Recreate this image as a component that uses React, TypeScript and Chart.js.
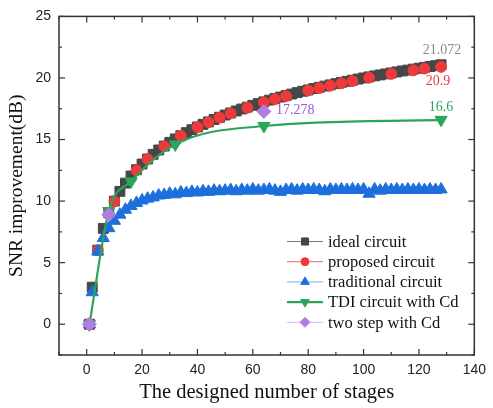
import React, { useEffect, useRef } from "react";
import { Chart, registerables } from "chart.js";
import { drawPoint } from "chart.js/helpers";

Chart.register(...registerables);

// ---- data ----
const stagesIdeal = [1, 2, 4, 6, 8, 10, 12, 14, 16, 18, 20, 22, 24, 26, 28, 30, 32, 34, 36, 38, 40, 42, 44, 46, 48, 50, 52, 54, 56, 58, 60, 62, 64, 66, 68, 70, 72, 74, 76, 78, 80, 82, 84, 86, 88, 90, 92, 94, 96, 98, 100, 102, 104, 106, 108, 110, 112, 114, 116, 118, 120, 122, 124, 126, 128];
const idealCircuit = [0, 3.01, 6.02, 7.78, 9.03, 10.0, 10.79, 11.46, 12.04, 12.55, 13.01, 13.42, 13.8, 14.15, 14.47, 14.77, 15.05, 15.31, 15.56, 15.8, 16.02, 16.23, 16.43, 16.63, 16.81, 16.99, 17.16, 17.32, 17.48, 17.63, 17.78, 17.92, 18.06, 18.2, 18.33, 18.45, 18.57, 18.69, 18.81, 18.92, 19.03, 19.14, 19.24, 19.34, 19.44, 19.54, 19.64, 19.73, 19.82, 19.91, 20.0, 20.09, 20.17, 20.25, 20.33, 20.41, 20.49, 20.57, 20.64, 20.72, 20.79, 20.86, 20.93, 21.0, 21.072];

const stagesProposed = [1, 4, 10, 18, 22, 28, 34, 40, 44, 48, 52, 58, 64, 68, 72, 80, 84, 88, 92, 96, 102, 110, 118, 122, 128];
const proposedCircuit = [0, 6.0, 9.98, 12.5, 13.4, 14.45, 15.3, 16.0, 16.4, 16.78, 17.12, 17.58, 18.02, 18.28, 18.52, 18.98, 19.18, 19.38, 19.57, 19.75, 20.02, 20.33, 20.62, 20.76, 20.9];

const stagesTraditional = stagesIdeal;
const traditionalCircuit = [0, 2.6, 5.9, 7.0, 7.8, 8.4, 8.9, 9.3, 9.6, 9.85, 10.05, 10.2, 10.3, 10.45, 10.5, 10.6, 10.55, 10.7, 10.65, 10.75, 10.7, 10.8, 10.75, 10.85, 10.8, 10.85, 10.9, 10.8, 10.9, 10.85, 10.95, 10.85, 10.9, 10.95, 10.85, 10.75, 10.9, 10.95, 10.85, 10.95, 10.9, 10.95, 10.9, 10.8, 10.95, 10.9, 10.95, 10.9, 10.95, 10.9, 10.95, 10.6, 10.95, 10.85, 10.95, 10.9, 10.95, 10.9, 10.95, 10.9, 10.95, 10.9, 10.95, 10.9, 10.95];

const stagesTDI = [1, 8, 16, 32, 64, 128];
const tdiCircuit = [0, 9.2, 11.6, 14.6, 16.1, 16.6];

const stagesTwoStep = [1, 8, 64];
const twoStepCircuit = [0, 8.9, 17.278];

const xTicks = [0, 20, 40, 60, 80, 100, 120, 140];
const xMinorTicks = [-10, 10, 30, 50, 70, 90, 110, 130];
const yTicks = [0, 5, 10, 15, 20, 25];
const yMinorTicks = [-2.5, 2.5, 7.5, 12.5, 17.5, 22.5];

const legendLabels = ["ideal circuit", "proposed circuit", "traditional circuit", "TDI circuit with Cd", "two step with Cd"];

const COLORS = {
  ideal: "#474747",
  proposed: "#ee3a3a",
  traditional: "#1c6fdc",
  tdi: "#2aa55a",
  twoStep: "#b07ee0",
};

const pts = (xs: number[], ys: number[]) => xs.map((x, i) => ({ x, y: ys[i] }));

const framePlugin = {
  id: "frame",
  afterDraw(chart: any) {
    const { ctx, chartArea: a, scales } = chart;
    const xs = scales.x;
    const ys = scales.y;
    ctx.save();
    ctx.strokeStyle = "#333";
    ctx.lineWidth = 1.5;
    ctx.strokeRect(a.left, a.top, a.right - a.left, a.bottom - a.top);
    ctx.lineWidth = 1.2;
    const tick = (x1: number, y1: number, x2: number, y2: number) => {
      ctx.beginPath();
      ctx.moveTo(x1, y1);
      ctx.lineTo(x2, y2);
      ctx.stroke();
    };
    xTicks.forEach((v) => {
      const px = xs.getPixelForValue(v);
      tick(px, a.bottom, px, a.bottom - 6);
      tick(px, a.top, px, a.top + 6);
    });
    xMinorTicks.forEach((v) => {
      const px = xs.getPixelForValue(v);
      tick(px, a.bottom, px, a.bottom - 3);
      tick(px, a.top, px, a.top + 3);
    });
    yTicks.forEach((v) => {
      const py = ys.getPixelForValue(v);
      tick(a.left, py, a.left + 6, py);
      tick(a.right, py, a.right - 6, py);
    });
    yMinorTicks.forEach((v) => {
      const py = ys.getPixelForValue(v);
      tick(a.left, py, a.left + 3, py);
      tick(a.right, py, a.right - 3, py);
    });

    // annotations
    ctx.font = "14px 'Liberation Serif'";
    ctx.textBaseline = "middle";
    const ann = (text: string, color: string, xv: number, yv: number, dx: number, dy: number, align: CanvasTextAlign) => {
      ctx.fillStyle = color;
      ctx.textAlign = align;
      ctx.fillText(text, xs.getPixelForValue(xv) + dx, ys.getPixelForValue(yv) + dy);
    };
    ann("21.072", "#8a8a8a", 128, 21.072, 1, -14, "center");
    ann("20.9", COLORS.proposed, 128, 20.9, -3, 14, "center");
    ann("17.278", "#9b55dd", 64, 17.278, 12, -1, "left");
    ann("16.6", COLORS.tdi, 128, 16.6, 0, -12, "center");

    // legend
    const items = [
      { label: legendLabels[0], color: COLORS.ideal, line: "#7a7a7a", lw: 1, style: "rect", r: 5, rot: 0 },
      { label: legendLabels[1], color: COLORS.proposed, line: "#ee6a6a", lw: 1, style: "circle", r: 4, rot: 0 },
      { label: legendLabels[2], color: COLORS.traditional, line: "#7aaee8", lw: 1, style: "triangle", r: 5, rot: 0 },
      { label: legendLabels[3], color: COLORS.tdi, line: COLORS.tdi, lw: 2.2, style: "triangle", r: 5, rot: 180 },
      { label: legendLabels[4], color: COLORS.twoStep, line: "#d4b8f0", lw: 1, style: "rectRot", r: 5, rot: 0 },
    ];
    const lx1 = 287;
    const lx2 = 323;
    const mx = 305;
    const tx = 328;
    const y0 = 241.5;
    const dy = 20.2;
    ctx.font = "16.5px 'Liberation Serif'";
    ctx.textAlign = "left";
    items.forEach((it, i) => {
      const y = y0 + i * dy;
      ctx.strokeStyle = it.line;
      ctx.lineWidth = it.lw;
      ctx.beginPath();
      ctx.moveTo(lx1, y);
      ctx.lineTo(lx2, y);
      ctx.stroke();
      ctx.fillStyle = it.color;
      ctx.strokeStyle = it.color;
      ctx.lineWidth = 1;
      drawPoint(ctx, { pointStyle: it.style as any, rotation: it.rot, radius: it.r, borderWidth: 1 }, mx, y);
      ctx.fillStyle = "#111";
      ctx.fillText(it.label, tx, y + 1);
    });
    ctx.restore();
  },
};

export default function App() {
  const ref = useRef<HTMLCanvasElement | null>(null);
  useEffect(() => {
    document.body.style.margin = "0";
    const canvas = ref.current!;
    const common = { showLine: false, pointBorderWidth: 1 };
    const chart = new Chart(canvas, {
      type: "scatter",
      data: {
        datasets: [
          {
            ...common,
            label: legendLabels[0],
            data: pts(stagesIdeal, idealCircuit),
            pointStyle: "rect",
            pointRadius: 7,
            backgroundColor: COLORS.ideal,
            borderColor: COLORS.ideal,
            order: 5,
          },
          {
            ...common,
            label: legendLabels[1],
            data: pts(stagesProposed, proposedCircuit),
            pointStyle: "circle",
            pointRadius: 5.4,
            backgroundColor: COLORS.proposed,
            borderColor: COLORS.proposed,
            order: 4,
          },
          {
            ...common,
            label: legendLabels[2],
            data: pts(stagesTraditional, traditionalCircuit),
            pointStyle: "triangle",
            pointRadius: 7,
            backgroundColor: COLORS.traditional,
            borderColor: COLORS.traditional,
            order: 3,
          },
          {
            label: legendLabels[3],
            data: pts(stagesTDI, tdiCircuit),
            showLine: true,
            cubicInterpolationMode: "monotone",
            borderWidth: 2.2,
            pointStyle: "triangle",
            pointRotation: 180,
            pointRadius: 7,
            pointBorderWidth: 1,
            backgroundColor: COLORS.tdi,
            borderColor: COLORS.tdi,
            order: 2,
          },
          {
            ...common,
            label: legendLabels[4],
            data: pts(stagesTwoStep, twoStepCircuit),
            pointStyle: "rectRot",
            pointRadius: 7,
            backgroundColor: COLORS.twoStep,
            borderColor: COLORS.twoStep,
            order: 1,
          },
        ] as any,
      },
      options: {
        animation: false,
        responsive: false,
        maintainAspectRatio: false,
        layout: { padding: { top: 12, right: 16.5, left: 0, bottom: 0 } },
        plugins: { legend: { display: false }, tooltip: { enabled: false } },
        scales: {
          x: {
            type: "linear",
            min: -10,
            max: 140,
            grid: { display: false, drawTicks: false },
            border: { display: false },
            afterBuildTicks: (s: any) => {
              s.ticks = xTicks.map((v) => ({ value: v }));
            },
            afterFit: (s: any) => {
              s.height = 53;
            },
            ticks: {
              padding: 7,
              color: "#222",
              font: { family: "'Liberation Sans'", size: 14 },
            },
            title: {
              display: true,
              text: "The designed number of stages",
              color: "#111",
              font: { family: "'Liberation Serif'", size: 20.5 },
              padding: { top: 0, bottom: 3 },
            },
          },
          y: {
            type: "linear",
            min: -2.5,
            max: 25,
            grid: { display: false, drawTicks: false },
            border: { display: false },
            afterBuildTicks: (s: any) => {
              s.ticks = yTicks.map((v) => ({ value: v }));
            },
            afterFit: (s: any) => {
              s.width = 59;
            },
            ticks: {
              padding: 8,
              color: "#222",
              font: { family: "'Liberation Sans'", size: 14 },
            },
            title: {
              display: true,
              text: "SNR improvement(dB)",
              color: "#111",
              font: { family: "'Liberation Serif'", size: 19.5 },
              padding: { top: 5, bottom: 0 },
            },
          },
        },
      },
      plugins: [framePlugin],
    });
    return () => chart.destroy();
  }, []);
  return (
    <div style={{ position: "absolute", left: 0, top: 0, width: 493, height: 408 }}>
      <canvas ref={ref} width={493} height={408} style={{ width: 493, height: 408 }} />
    </div>
  );
}
